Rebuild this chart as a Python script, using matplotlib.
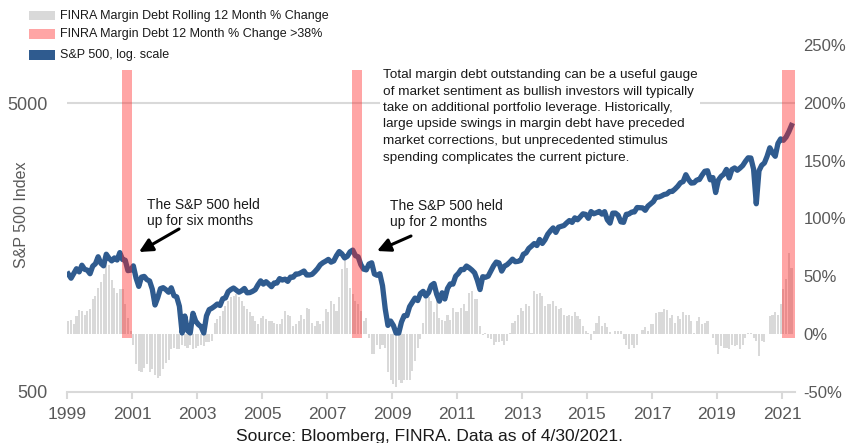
import numpy as np
import pandas as pd
import matplotlib
matplotlib.use("Agg")
import matplotlib.pyplot as plt
from matplotlib.patches import Rectangle
from matplotlib.ticker import NullLocator, FixedLocator

# ---------------- data ----------------
start_month = "1999-01"
n_months = 268

sp500 = [
    1280, 1238, 1286, 1335, 1302, 1373, 1329, 1320, 1283, 1363, 1389, 1469,   # 1999
    1394, 1366, 1499, 1452, 1421, 1455, 1431, 1518, 1437, 1429, 1315, 1320,   # 2000
    1366, 1240, 1160, 1249, 1256, 1224, 1211, 1134, 1000, 1060, 1139, 1148,   # 2001
    1130, 1107, 1147, 1077, 1067, 990, 800, 916, 815, 800, 936, 880,          # 2002
    856, 841, 800, 917, 964, 975, 990, 1008, 996, 1051, 1058, 1112,           # 2003
    1131, 1145, 1126, 1107, 1121, 1141, 1102, 1104, 1115, 1130, 1174, 1212,   # 2004
    1181, 1204, 1181, 1157, 1192, 1191, 1234, 1220, 1229, 1207, 1249, 1248,   # 2005
    1280, 1281, 1295, 1311, 1270, 1270, 1277, 1304, 1336, 1378, 1401, 1418,   # 2006
    1438, 1407, 1421, 1482, 1531, 1503, 1455, 1474, 1527, 1549, 1481, 1468,   # 2007
    1379, 1331, 1323, 1386, 1400, 1280, 1267, 1283, 1166, 969, 850, 880,      # 2008
    850, 800, 800, 873, 919, 919, 987, 1021, 1057, 1036, 1096, 1115,          # 2009
    1074, 1104, 1169, 1187, 1089, 1031, 1102, 1049, 1141, 1183, 1181, 1258,   # 2010
    1286, 1327, 1326, 1364, 1345, 1321, 1292, 1219, 1131, 1253, 1247, 1258,   # 2011
    1312, 1366, 1408, 1398, 1310, 1362, 1379, 1407, 1441, 1412, 1416, 1426,   # 2012
    1498, 1515, 1569, 1598, 1631, 1606, 1686, 1633, 1682, 1757, 1806, 1848,   # 2013
    1783, 1859, 1872, 1884, 1924, 1960, 1931, 2003, 1972, 2018, 2068, 2059,   # 2014
    1995, 2105, 2068, 2086, 2107, 2063, 2104, 1972, 1920, 2079, 2080, 2044,   # 2015
    1940, 1932, 2060, 2065, 2097, 2099, 2174, 2171, 2168, 2126, 2199, 2239,   # 2016
    2279, 2364, 2363, 2384, 2412, 2423, 2470, 2472, 2519, 2575, 2648, 2674,   # 2017
    2824, 2714, 2641, 2648, 2705, 2718, 2816, 2902, 2914, 2712, 2760, 2450,   # 2018
    2704, 2784, 2834, 2946, 2752, 2942, 2980, 2926, 2977, 3038, 3141, 3231,   # 2019
    3226, 2954, 2240, 2912, 3044, 3100, 3271, 3500, 3363, 3270, 3622, 3756,   # 2020
    3714, 3811, 3973, 4181,                                                   # 2021
]

margin_chg = [
    11, 12, 9, 16, 21, 20, 17, 20, 22, 30, 33, 40,
    45, 52, 70, 60, 47, 40, 36, 39, 39, 26, 14, 3,
    -9, -26, -32, -33, -29, -26, -33, -30, -35, -38, -36, -30,
    -25, -22, -13, -12, -13, -13, -9, -10, -12, -9, -13,
    -12, -10, -9, -10, -7, -7, -6, 10, 13, 16, 20, 24, 29, 32, 33, 35, 32, 29,
    24, 22, 19, 16, 11, 9, 14, 16, 13, 11, 11, 10, 9, 9, 13, 20, 17, 16, 7, 9,
    11, 17, 13, 23, 22, 10, 7, 11, 9, 11,
    22, 19, 29, 26, 20, 32, 56, 65, 57, 40, 35, 29, 26, 20, 11, 14, -3, -17,
    -17, -9, -13, -9, -12, -33, -40, -43, -46, -40, -42, -40, -40, -40, -32, -23,
    -12, -4, 10, 30, 32, 29, 19, 32, 14, 12, 11, 17, 12,
    23, 19, 19, 23, 26, 20, 36, 37, 30, 30, 7, -1, 1, -3, -4, -9, -7, -7, -6, -9,
    -6, 1, 10, 11, 17, 23, 20, 26, 24, 1, 37, 35, 36, 33, 24, 26, 26, 29, 24, 22,
    23, 17, 16, 17, 16, 19, 16,
    13, 7, 3, 1, -5, 3, 10, 16, 7, 10, 6, 2, 0, 3, 3, 3, -4, -9, -13, -9, -12, -9,
    0, 4, 6, 3, 9, 9, 18, 19, 19, 22, 21, 14, 17, 10, 16, 13, 19, 17, 17, 11, 1,
    11, 15, 9, 10, 11,
    0, -3, -9, -17, -10, -12, -12, -13, -9, -10, -9, -13, -9, -3, 1, 1, -3, -6,
    -19, -6, -7, 0, 16, 17, 19, 17, 26, 39, 48, 70, 57,
]

highlight_start = [2000.70, 2007.77, 2021.00]
highlight_end = [2001.00, 2008.08, 2021.40]
highlight_low, highlight_high = -3, 228

year_ticks = list(range(1999, 2022, 2))
pct_ticks = [-50, 0, 50, 100, 150, 200, 250]
sp_ticks = [500, 5000]

legend_labels = ["FINRA Margin Debt Rolling 12 Month % Change",
                 "FINRA Margin Debt 12 Month % Change >38%",
                 "S&P 500, log. scale"]

note_text = ("Total margin debt outstanding can be a useful gauge\n"
             "of market sentiment as bullish investors will typically\n"
             "take on additional portfolio leverage. Historically,\n"
             "large upside swings in margin debt have preceded\n"
             "market corrections, but unprecedented stimulus\n"
             "spending complicates the current picture.")
ann1 = "The S&P 500 held\nup for six months"
ann2 = "The S&P 500 held\nup for 2 months"
source = "Source: Bloomberg, FINRA. Data as of 4/30/2021."

# ---------------- style ----------------
W, H = 850, 443
BLUE = "#2F5B8F"
GRAY_BAR = "#D9D9D9"
PINK = (1.0, 0.12, 0.12, 0.40)
PINK_SOLID = "#FFA5A5"
TICK_GRAY = "#595959"
AX_GRAY = "#D9D9D9"
SANS = ["Liberation Sans", "DejaVu Sans"]

dates = pd.date_range(start_month, periods=n_months, freq="MS")
x = dates.year + (dates.month - 1) / 12 + 0.5 / 12

fig = plt.figure(figsize=(W / 100, H / 100), dpi=100)
ax = fig.add_axes([67 / W, 51 / H, 728 / W, 347 / H])
ax2 = ax.twinx()

# bars (right axis, %)
ax.bar(x, margin_chg, width=0.78 / 12, color=GRAY_BAR, linewidth=0, zorder=2)
ax.axhline(200, color=AX_GRAY, lw=1.5, zorder=1)
ax.set_ylim(-50, 250)
ax.set_xlim(1999.0, 2021.4)
ax.yaxis.tick_right()
ax.yaxis.set_major_locator(FixedLocator(pct_ticks))
ax.set_yticklabels([f"{v}%" for v in pct_ticks])
ax.tick_params(axis="y", length=0, pad=6, labelsize=12, labelcolor=TICK_GRAY)
ax.xaxis.set_major_locator(FixedLocator(year_ticks))
ax.set_xticklabels([str(y) for y in year_ticks])
ax.tick_params(axis="x", length=5, width=1.5, color=AX_GRAY, pad=6,
               labelsize=12.5, labelcolor=TICK_GRAY)
for s in ["top", "left", "right"]:
    ax.spines[s].set_visible(False)
ax.spines["bottom"].set_color(AX_GRAY)
ax.spines["bottom"].set_linewidth(1.5)
for lab in ax.get_xticklabels() + ax.get_yticklabels():
    lab.set_family(SANS)

# S&P line (left axis, log)
ax2.plot(x, sp500, color=BLUE, lw=3.8, solid_joinstyle="round", zorder=3)
ax2.set_yscale("log")
ax2.set_ylim(500, 500 * 10 ** (347 / 289))
ax2.yaxis.tick_left()
ax2.yaxis.set_major_locator(FixedLocator(sp_ticks))
ax2.yaxis.set_minor_locator(NullLocator())
ax2.set_yticklabels([str(v) for v in sp_ticks])
ax2.tick_params(axis="y", length=0, pad=14, labelsize=13, labelcolor=TICK_GRAY)
for lab in ax2.get_yticklabels():
    lab.set_family(SANS)
for s in ax2.spines.values():
    s.set_visible(False)

# highlight spans (on top of line)
for a, b in zip(highlight_start, highlight_end):
    ax2.axvspan(a, b, ymin=(highlight_low + 50) / 300, ymax=(highlight_high + 50) / 300,
                color=PINK, lw=0, zorder=4)

# y label
fig.text(22 / W, 1 - 215 / H, "S&P 500 Index", rotation=90, ha="center", va="center",
         fontsize=11.5, color=TICK_GRAY, family=SANS)

# note box
fig.text(383 / W, 1 - 69 / H, note_text, ha="left", va="top", fontsize=9.7,
         color="#1a1a1a", family=SANS, linespacing=1.5,
         bbox=dict(facecolor="white", edgecolor="none", pad=2), zorder=10)

# annotations
def fp(px, py):
    return (px / W, 1 - py / H)

fig.text(147 / W, 1 - 198 / H, ann1, ha="left", va="top", fontsize=10,
         color="#1a1a1a", family=SANS, linespacing=1.2)
fig.text(390 / W, 1 - 199 / H, ann2, ha="left", va="top", fontsize=10,
         color="#1a1a1a", family=SANS, linespacing=1.2)
for tail, head in [((179, 229), (139, 252)), ((411, 236), (377, 251))]:
    ax2.annotate("", xy=fp(*head), xytext=fp(*tail), xycoords="figure fraction",
                 textcoords="figure fraction",
                 arrowprops=dict(arrowstyle="-|>", color="black", lw=2.2,
                                 mutation_scale=20, shrinkA=0, shrinkB=0))

# legend (manual)
leg_colors = [GRAY_BAR, PINK_SOLID, BLUE]
leg_y = [15.5, 34, 55]
for c, yy, lab in zip(leg_colors, leg_y, legend_labels):
    fig.patches.append(Rectangle(((29) / W, 1 - (yy + 4.5) / H), 26 / W, 9 / H,
                                 transform=fig.transFigure, color=c, lw=0))
    fig.text(60 / W, 1 - yy / H, lab, ha="left", va="center", fontsize=9,
             color="#1a1a1a", family=SANS)

# source
fig.text(430 / W, 1 - 436 / H, source, ha="center", va="center", fontsize=12.5,
         color="#1a1a1a", family=SANS)

fig.savefig("out.png", dpi=100)
